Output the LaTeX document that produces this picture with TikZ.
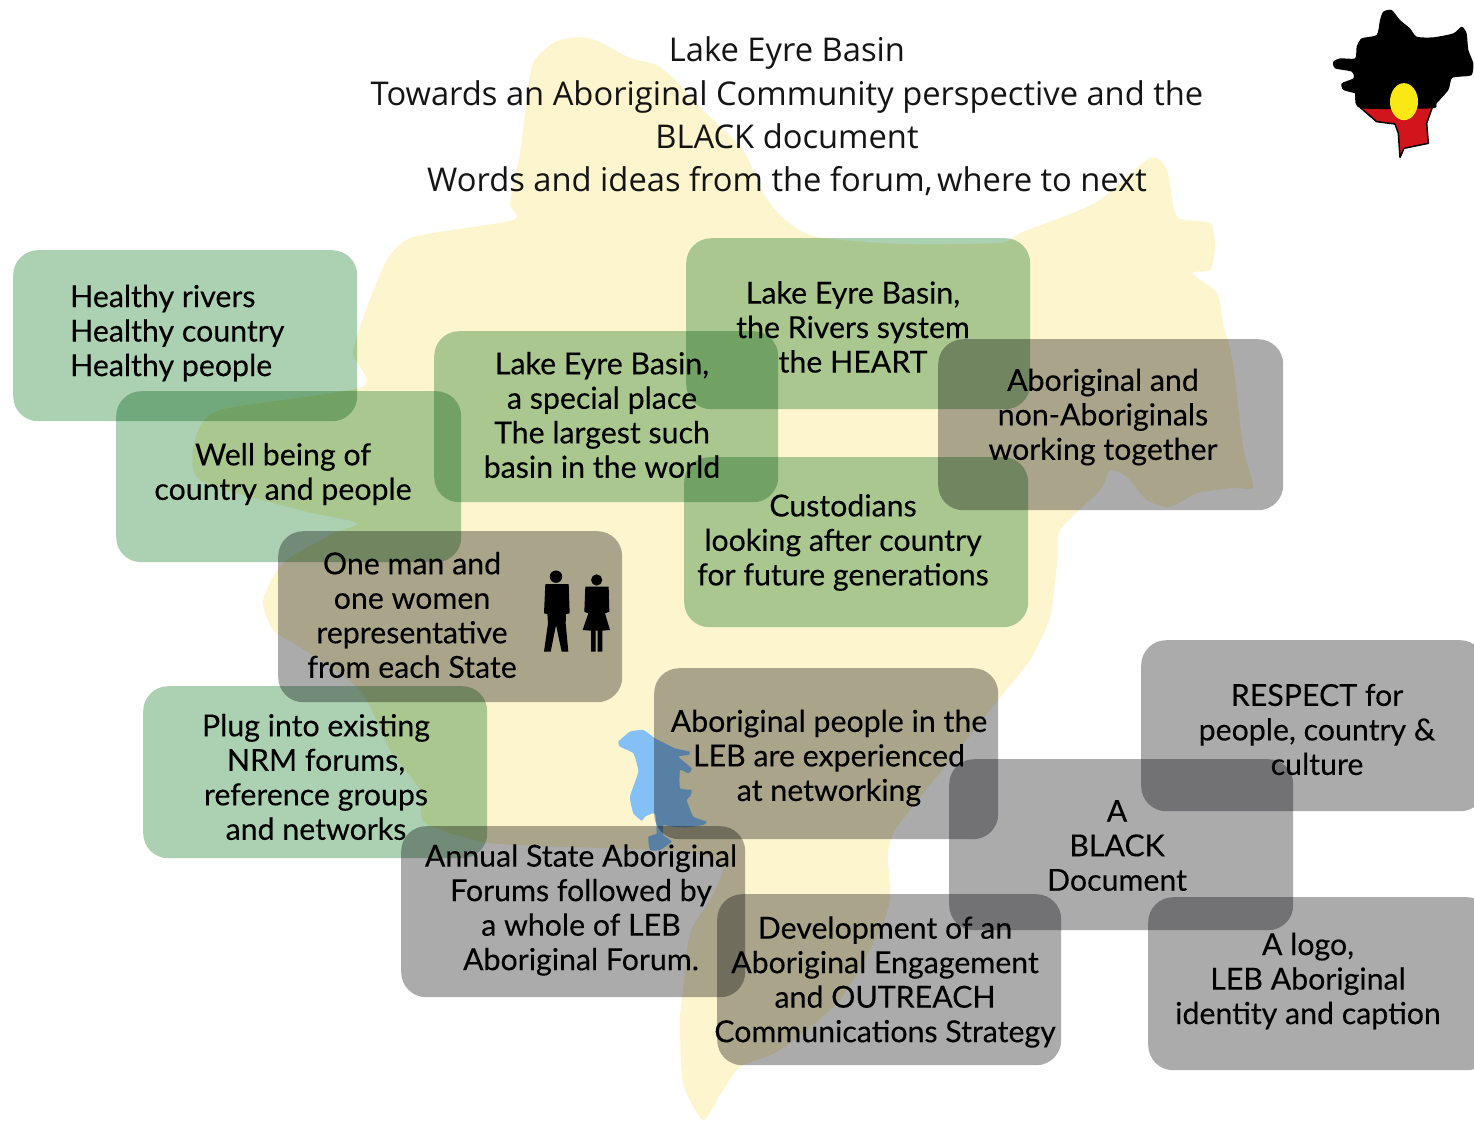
\documentclass[tikz,border=0pt]{standalone}
\usepackage{fontspec}
\setmainfont{Open Sans}
\newfontfamily\bodyfont[FakeBold=0.2]{Lato}
\newfontfamily\titlefont{Open Sans}
\usetikzlibrary{calc}
\definecolor{basinyellow}{RGB}{253,245,205}
\definecolor{lakeblue}{RGB}{132,192,245}
\definecolor{greenbox}{RGB}{171,208,178}
\definecolor{greybox}{RGB}{171,171,172}
\definecolor{flagred}{RGB}{210,20,28}
\definecolor{flagyellow}{RGB}{250,232,20}
\tikzset{
  panel/.style={rounded corners=25pt,blend mode=multiply,anchor=north west,minimum width=344pt,minimum height=171pt},
  greenpanel/.style={panel,fill=greenbox},
  greypanel/.style={panel,fill=greybox},
  bodytext/.style={align=center,inner sep=0pt,text=black,font=\bodyfont\fontsize{30.3}{34.5}\selectfont},
  titletext/.style={align=center,inner sep=0pt,text=black!92,font=\titlefont\fontsize{32.7}{43.4}\selectfont},
  sil/.style={fill=black},
}
\begin{document}
\begin{tikzpicture}[x=1pt,y=-1pt]
\useasboundingbox (0,0) rectangle (1474,1122);
\fill[white] (0,0) rectangle (1474,1122);
% basin
\fill[basinyellow] plot[smooth cycle,tension=.4] coordinates {
(580,37)(600,42)(630,58)(657,65)(677,82)(703,110)(743,150)(763,193)(785,220)(817,237)(900,244)(1000,243)(1020,233)(1060,218)(1100,200)(1150,158)(1167,170)(1177,217)(1210,223)(1215,247)(1210,270)(1192,273)(1217,293)(1223,323)(1233,363)(1243,447)(1253,487)(1233,488)(1197,493)(1170,507)(1147,500)(1127,477)(1110,470)(1100,490)(1060,530)(1057,563)(1050,617)(1030,660)(998,700)(950,760)(897,827)(888,853)(890,897)(880,930)(840,1000)(780,1050)(740,1067)(720,1095)(703,1120)(683,1083)(680,1020)(683,990)(690,933)(710,900)(723,867)(690,852)(600,848)(490,843)(425,823)(420,790)(390,750)(360,690)(300,647)(273,630)(263,600)(283,563)(330,535)(357,523)(300,510)(200,480)(195,440)(220,410)(362,387)(353,353)(367,307)(387,260)(413,237)(513,220)(510,203)(520,153)(525,113)(533,63)(555,42)};
% lake
\begin{scope}[shift={(600,710)},x=0.3333pt,y=-0.3333pt]
\fill[lakeblue] plot[smooth cycle,tension=.25] coordinates {
(55,95)(90,65)(130,60)(165,85)(195,100)(225,115)(270,125)(265,135)(235,140)(275,175)(265,190)(240,180)(240,235)(275,240)(270,260)(260,270)(280,320)(320,335)(310,345)(260,352)(215,350)(190,345)(190,375)(215,395)(180,420)(150,420)(145,380)(170,370)(165,310)(135,320)(125,332)(100,310)(90,260)(115,185)(100,130)(60,110)};
\end{scope}
% panels
\node[greenpanel] (healthybox) at (13,250) {};
\node[greenpanel,minimum width=345pt] (wellbox) at (116,391) {};
\node[greenpanel] (specialbox) at (434,331) {};
\node[greenpanel] (riversbox) at (686,238) {};
\node[greenpanel,minimum height=170pt] (custodianbox) at (684,457) {};
\node[greenpanel,minimum height=172pt] (plugbox) at (143,686) {};
\node[greypanel,minimum width=345pt] (togetherbox) at (938,339) {};
\node[greypanel] (onemanbox) at (278,531) {};
\node[greypanel] (networkbox) at (654,668) {};
\node[greypanel] (respectbox) at (1141,640) {};
\node[greypanel] (blackbox) at (949,759) {};
\node[greypanel] (annualbox) at (401,826) {};
\node[greypanel] (devbox) at (717,894) {};
\node[greypanel,minimum height=173pt] (logobox) at (1148,897) {};
% texts
\node[titletext] (title) at (787,116.5) {Lake Eyre Basin\\Towards an Aboriginal Community perspective and the\\BLACK document\\Words and ideas from the forum,\hspace{-4pt} where to next};
\node[bodytext,align=left,anchor=west] (healthy) at (70,333) {Healthy rivers\\Healthy country\\Healthy people};
\node[bodytext] (well) at (283,474) {Well being of\\country and people};
\node[bodytext] (special) at (602,415) {Lake Eyre Basin,\\a special place\\The largest such\\basin in the world};
\node[bodytext] (rivers) at (853,327) {Lake Eyre Basin,\\the Rivers system\\the HEART};
\node[bodytext] (together) at (1103,417) {Aboriginal and\\non-Aboriginals\\working together};
\node[bodytext] (custodian) at (843,542.5) {Custodians\\looking after country\\for future generations};
\node[bodytext] (oneman) at (412,615) {One man and\\one women\\representative\\from each State};
\node[bodytext] (plug) at (316,777) {Plug into existing\\NRM forums,\\reference groups\\and networks};
\node[bodytext] (network) at (829,758) {Aboriginal people in the\\LEB are experienced\\at networking};
\node[bodytext] (respect) at (1317,729.5) {RESPECT for\\people, country \&\\culture};
\node[bodytext] (black) at (1117,845.5) {A\\BLACK\\Document};
\node[bodytext] (annual) at (581,910) {Annual State Aboriginal\\Forums followed by\\a whole of LEB\\Aboriginal Forum.};
\node[bodytext] (dev) at (885,982) {Development of an\\Aboriginal Engagement\\and OUTREACH\\Communications Strategy};
\node[bodytext] (logo) at (1308,981) {A logo,\\LEB Aboriginal\\identity and caption};
% people
\begin{scope}[shift={(530,560)},x=0.3333pt,y=-0.3333pt]
\fill[sil] (78,50) circle[radius=6.2pt];
\fill[sil] (46,72)--(116,72)--(119,160)--(108,162)--(107,190)--(115,275)--(95,275)--(78,195)--(62,275)--(42,275)--(54,190)--(52,162)--(42,160)--cycle;
\fill[sil] (200,60) circle[radius=5.6pt];
\fill[sil] (166,80)--(236,80)--(238,155)--(225,160)--(240,210)--(217,212)--(217,275)--(203,275)--(203,212)--(197,212)--(197,275)--(183,275)--(183,212)--(158,210)--(175,160)--(163,155)--cycle;
\end{scope}
% emblem
\begin{scope}[shift={(1320,0)},x=0.3333pt,y=-0.3333pt]
\fill[flagred] (120,322)--(337,322)--(320,370)--(325,430)--(252,445)--(240,472)--(235,400)--(225,372)--(170,365)--cycle;
\draw[black,line width=1.5pt,line join=round] (120,322)--(170,365)--(225,372)--(235,400)--(240,472)--(252,445)--(325,430)--(320,370)--(337,322);
\fill[black] plot[smooth cycle,tension=.4] coordinates {(190,35)(215,30)(240,60)(270,85)(290,110)(340,112)(400,100)(425,80)(440,100)(445,150)(460,190)(455,225)(420,230)(395,235)(385,270)(350,310)(335,325)(125,325)(105,290)(105,280)(70,270)(65,250)(100,235)(95,215)(45,205)(40,185)(60,175)(105,175)(110,140)(125,115)(170,105)(180,60)};
\fill[flagyellow] (252,305) ellipse[x radius=14pt,y radius=18.5pt];
\end{scope}
\end{tikzpicture}
\end{document}
